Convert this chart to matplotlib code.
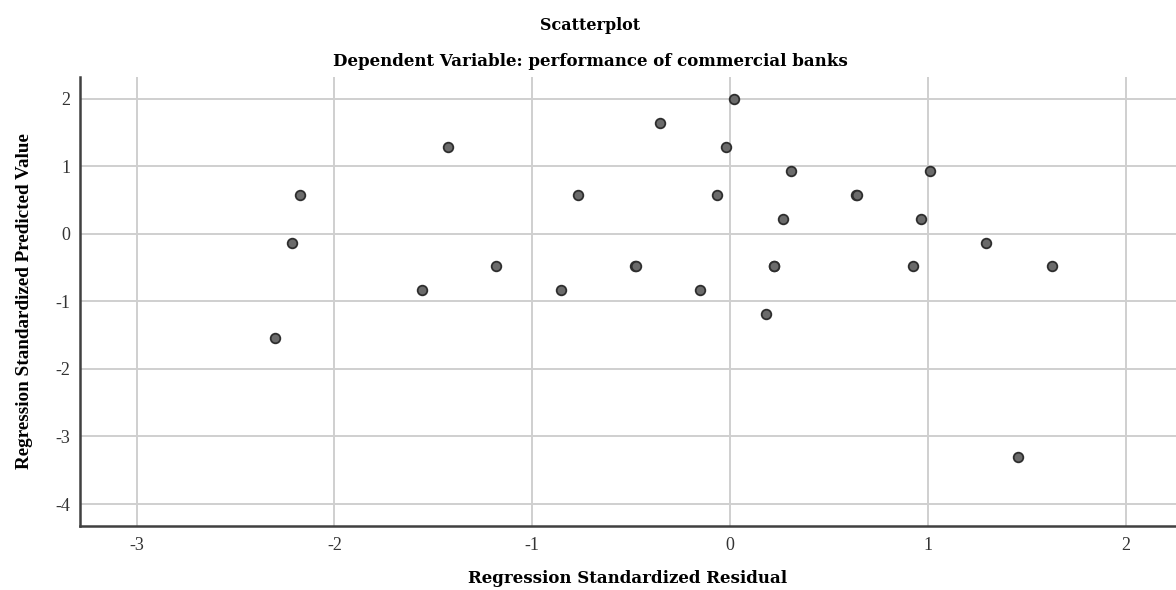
import matplotlib.pyplot as plt

# Regression standardized residuals (x) and standardized predicted values (y)
residual = [-2.174, -2.214, -2.300, -1.426, -1.555, -1.181, -0.852, -0.767,
            0.020, -0.353, -0.022, 0.308, 1.010, -0.065, 0.637, 0.640,
            0.266, 0.967, 1.296, -0.480, -0.476, 0.221, 0.225, 0.923,
            1.626, -0.151, 0.180, 1.456]
predicted = [0.582, -0.128, -1.545, 1.289, -0.834, -0.479, -0.834, 0.582,
             1.995, 1.640, 1.289, 0.933, 0.933, 0.582, 0.582, 0.582,
             0.227, 0.227, -0.128, -0.479, -0.479, -0.479, -0.479, -0.479,
             -0.479, -0.834, -1.190, -3.310]

x_ticks = [-3, -2, -1, 0, 1, 2]
y_ticks = [-4, -3, -2, -1, 0, 1, 2]

plt.rcParams['font.family'] = ['Liberation Serif', 'DejaVu Serif']
plt.rcParams['axes.unicode_minus'] = False

wide_bold = dict(family='DejaVu Serif', fontweight='bold')

fig = plt.figure(figsize=(11.76, 5.9), dpi=100)
ax = fig.add_axes([0.0684, 0.108, 0.9316, 0.762])

ax.scatter(residual, predicted, s=48, c='#6b6b6b', edgecolors='#2e2e2e',
           linewidths=1.3, zorder=3)

ax.set_xlim(-3.284, 2.255)
ax.set_ylim(-4.33, 2.33)
ax.set_xticks(x_ticks)
ax.set_yticks(y_ticks)
ax.grid(True, color='#cfcfcf', linewidth=1.4)
ax.set_axisbelow(True)

for side in ['top', 'right']:
    ax.spines[side].set_visible(False)
for side in ['left', 'bottom']:
    ax.spines[side].set_color('#404040')
    ax.spines[side].set_linewidth(1.8)

ax.tick_params(length=0, labelsize=13, labelcolor='#333333')
ax.tick_params(axis='x', pad=8)
ax.tick_params(axis='y', pad=7)

ax.set_ylabel('Regression Standardized Predicted Value', fontsize=13.8,
              fontweight='bold', labelpad=16)

fig.text(0.534, 0.012, 'Regression Standardized Residual', ha='center',
         va='baseline', fontsize=12, **wide_bold)
fig.text(0.502, 0.957, 'Scatterplot', ha='center', va='center',
         fontsize=11.5, **wide_bold)
fig.text(0.502, 0.895, 'Dependent Variable: performance of commercial banks',
         ha='center', va='center', fontsize=12, **wide_bold)

fig.savefig('out.png', dpi=100)
